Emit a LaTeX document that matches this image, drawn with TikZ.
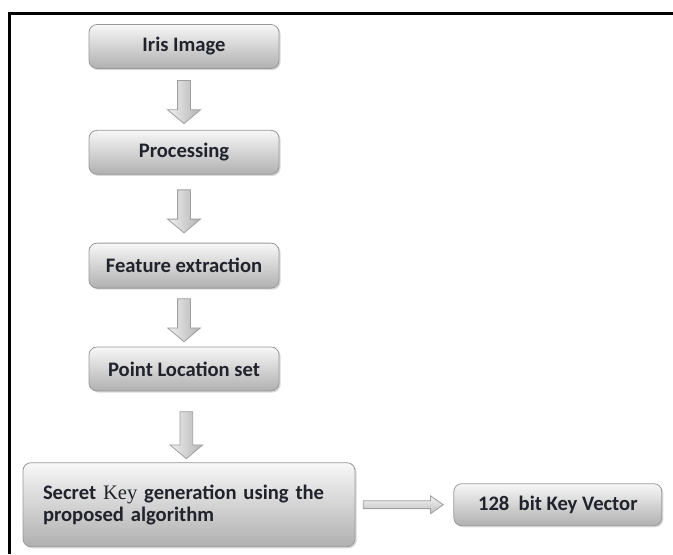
\documentclass[tikz,border=0pt]{standalone}
\usepackage{fontspec}
\setmainfont{Carlito}
\newfontfamily\keyfont{Liberation Serif}
\usetikzlibrary{shapes.arrows, positioning, shadows, calc}
\definecolor{boxtext}{RGB}{32,34,44}
\tikzset{
    base/.style = {
        draw=gray!80, thin, text centered, rounded corners=4pt,
        top color=gray!6, bottom color=gray!62, text=boxtext,
        drop shadow={shadow xshift=0.8pt, shadow yshift=-0.8pt, opacity=0.3},
        font=\fontsize{10.3}{11}\selectfont\bfseries
    },
    % Boxes
    stage/.style = {base, rectangle, minimum width=95pt, minimum height=22pt},
    wide/.style  = {base, rectangle, minimum width=166pt, minimum height=42pt,
        text width=146pt, align=left},
    % Block arrows
    flow/.style  = {single arrow, draw=gray!75, inner xsep=0pt, single arrow head indent=0pt},
    vflow/.style = {flow, rotate=-90, left color=gray!12, right color=gray!60,
        inner ysep=3pt, minimum height=21.5pt, single arrow head extend=5pt,
        single arrow tip angle=100},
    hflow/.style = {flow, top color=gray!10, bottom color=gray!50,
        inner ysep=1.75pt, minimum height=40pt, single arrow head extend=2.5pt,
        single arrow tip angle=70}
}

\begin{document}
\begin{tikzpicture}[x=0.5pt, y=-0.5pt]
    \useasboundingbox (0,0) rectangle (673,554);
    \draw [line width=1.5pt] (9,554) -- (9,13) -- (673,13);

    \node (iris) [stage] at (184,46.5) {Iris Image};
    \node (proc) [stage, below=30.5pt of iris] {Processing};
    \node (feat) [stage, below=34pt of proc, minimum height=22.5pt] {Feature extraction};
    \node (point) [stage, below=29pt of feat] {Point Location set};
    \node (secret) [wide, below=35.5pt of point, xshift=2.5pt]
        {Secret {\keyfont\mdseries Key} generation using the\\proposed algorithm};
    \node (keyvec) [stage, right=49pt of secret, minimum width=104pt, minimum height=21pt]
        {128\ \ bit Key Vector};

    \path (iris) -- node[vflow] {} (proc);
    \path (proc) -- node[vflow] {} (feat);
    \path (feat) -- node[vflow] {} (point);
    \path (point) -- node[vflow, pos=0.58, minimum height=23.5pt] {} (secret);
    \path (secret) -- node[hflow, pos=0.46] {} (keyvec);
\end{tikzpicture}
\end{document}
